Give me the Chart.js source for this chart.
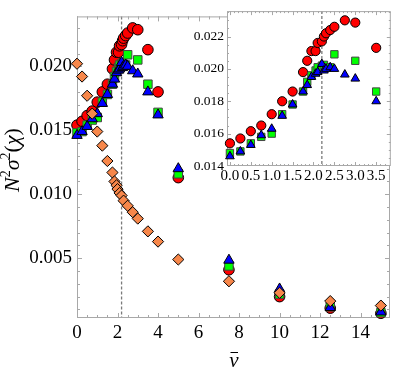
<!DOCTYPE html>
<html>
<head>
<meta charset="utf-8">
<script src="https://cdn.jsdelivr.net/npm/chart.js@4.4.0/dist/chart.umd.min.js"></script>
<style>
  html, body { margin: 0; padding: 0; background: #fff; }
  #wrap { position: relative; width: 397px; height: 375px; }
  #main { position: absolute; left: 0; top: 0; }
  #inset { position: absolute; left: 185px; top: 0; }
</style>
</head>
<body>
<div id="wrap">
  <canvas id="main" width="397" height="375"></canvas>
  <canvas id="inset" width="212" height="185"></canvas>
</div>
<script>
// nu-bar Werte fuer rot / gruen / blau
const vBar = [0, 0.25, 0.5, 0.75, 1, 1.25, 1.5, 1.75, 1.85, 1.95, 2.05, 2.1, 2.2, 2.25, 2.3, 2.4, 2.5, 2.75, 3, 3.5, 4, 5, 7.5, 10, 12.5, 15];
const rot = [0.0154, 0.0157, 0.01615, 0.0165, 0.0172, 0.0180, 0.0186, 0.0198, 0.0205, 0.0211, 0.0211, 0.0216, 0.0217, 0.0220, 0.0222, 0.0224, 0.0226, 0.0230, 0.02286, 0.0213, 0.0180, 0.0113, 0.0041, 0.0020, 0.0011, 0.0007];
const gruen = [0.0148, 0.0149, 0.0154, 0.0158, 0.0160, 0.0172, 0.0178, 0.0186, 0.0192, 0.0196, 0.0199, 0.0201, 0.0202, 0.02025, 0.0201, 0.0201, 0.0209, null, 0.0205, 0.0186, 0.0164, 0.0116, 0.0044, 0.0022, 0.0012, 0.00075];
const blau = [0.0146, 0.0149, 0.0153, 0.0159, 0.0163, 0.0171, 0.0178, 0.0186, 0.0190, 0.0195, 0.0197, 0.0198, 0.0203, 0.0199, 0.0200, 0.0201, 0.0200, 0.01965, 0.0194, 0.0180, 0.0162, 0.0120, 0.00485, 0.0026, 0.00115, 0.0008];

// Rauten (nur im Hauptplot)
const vOrange = [0, 0.25, 0.5, 0.75, 1, 1.25, 1.5, 1.75, 1.85, 1.95, 2, 2.1, 2.2, 2.3, 2.5, 2.75, 3, 3.5, 4, 5, 7.5, 10, 12.5, 15];
const orange = [0.0202, 0.0192, 0.0177, 0.0163, 0.0149, 0.0138, 0.0126, 0.0117, 0.0110, 0.0107, 0.0104, 0.0101, 0.0099, 0.0095, 0.0091, 0.0086, 0.0081, 0.0071, 0.0063, 0.0049, 0.0032, 0.0023, 0.00165, 0.0013];

// gestrichelte Linie
const nuKrit = 2.2;

// Ticks Hauptplot
const xHaupt = [0, 2, 4, 6, 8, 10, 12, 14];
const yHaupt = [0.005, 0.010, 0.015, 0.020];
// Ticks Inset
const xInset = [0, 0.5, 1, 1.5, 2, 2.5, 3, 3.5];
const yInset = [0.014, 0.016, 0.018, 0.020, 0.022];

function kleineTicks(von, bis, schritt) {
  let arr = [];
  for (let i = Math.ceil(von / schritt); i * schritt <= bis; i++) {
    arr.push(i * schritt);
  }
  return arr;
}

function punkte(xs, ys, maxX) {
  let arr = [];
  for (let i = 0; i < xs.length; i++) {
    if (ys[i] === null) continue;
    if (maxX !== undefined && xs[i] > maxX) continue;
    arr.push({ x: xs[i], y: ys[i] });
  }
  return arr;
}

function rahmenPlugin(cfg) {
  return {
    id: 'rahmen',
    beforeDraw(chart) {
      if (!cfg.fill) return;
      const a = chart.chartArea;
      chart.ctx.save();
      chart.ctx.fillStyle = '#fff';
      chart.ctx.fillRect(a.left, a.top, a.right - a.left, a.bottom - a.top);
      chart.ctx.restore();
    },
    beforeDatasetsDraw(chart) {
      const ctx = chart.ctx;
      const a = chart.chartArea;
      const x = chart.scales.x;
      const y = chart.scales.y;
      ctx.save();
      // gestrichelte Linie
      ctx.strokeStyle = '#7a7a7a';
      ctx.lineWidth = 1.3;
      ctx.setLineDash([3, 2]);
      const xd = x.getPixelForValue(nuKrit);
      ctx.beginPath();
      ctx.moveTo(xd, a.top);
      ctx.lineTo(xd, a.bottom);
      ctx.stroke();
      ctx.setLineDash([]);
      // Rahmen
      ctx.strokeStyle = '#a8a8a8';
      ctx.lineWidth = 1;
      ctx.strokeRect(a.left + 0.5, a.top + 0.5, a.right - a.left - 1, a.bottom - a.top - 1);
      // Ticks innen auf allen Seiten
      ctx.beginPath();
      const xTick = (v, len) => {
        const p = Math.round(x.getPixelForValue(v)) + 0.5;
        if (p < a.left || p > a.right) return;
        ctx.moveTo(p, a.bottom); ctx.lineTo(p, a.bottom - len);
        ctx.moveTo(p, a.top); ctx.lineTo(p, a.top + len);
      };
      const yTick = (v, len) => {
        const p = Math.round(y.getPixelForValue(v)) + 0.5;
        if (p < a.top || p > a.bottom) return;
        ctx.moveTo(a.left, p); ctx.lineTo(a.left + len, p);
        ctx.moveTo(a.right, p); ctx.lineTo(a.right - len, p);
      };
      cfg.xMinor.forEach(v => xTick(v, cfg.minor));
      cfg.xMajor.forEach(v => xTick(v, cfg.major));
      cfg.yMinor.forEach(v => yTick(v, cfg.minor));
      cfg.yMajor.forEach(v => yTick(v, cfg.major));
      ctx.stroke();
      ctx.restore();
    }
  };
}

// Achsentitel im Hauptplot
const titelPlugin = {
  id: 'titel',
  afterDraw(chart) {
    const ctx = chart.ctx;
    ctx.save();
    ctx.fillStyle = '#000';
    // y-Titel N^2 sigma^2 (chi)
    const teile = [
      { t: 'N', f: 'italic 22px "Liberation Serif"', dy: 0 },
      { t: '2', f: '14px "Liberation Serif"', dy: -9 },
      { t: 'σ', f: 'italic 22px "Liberation Serif"', dy: 0 },
      { t: '2', f: '14px "Liberation Serif"', dy: -9 },
      { t: '(', f: '22px "Liberation Serif"', dy: 0 },
      { t: 'χ', f: 'italic 22px "Liberation Serif"', dy: 0 },
      { t: ')', f: '22px "Liberation Serif"', dy: 0 }
    ];
    let breite = 0;
    teile.forEach(p => { ctx.font = p.f; p.w = ctx.measureText(p.t).width; breite += p.w; });
    ctx.translate(19, 160);
    ctx.rotate(-Math.PI / 2);
    ctx.textBaseline = 'alphabetic';
    let pos = -breite / 2;
    teile.forEach(p => { ctx.font = p.f; ctx.fillText(p.t, pos, p.dy); pos += p.w; });
    ctx.setTransform(1, 0, 0, 1, 0, 0);
    // x-Titel v mit Strich
    ctx.font = 'italic 21px "Liberation Serif"';
    ctx.textAlign = 'center';
    ctx.fillText('v', 234, 367);
    ctx.strokeStyle = '#000';
    ctx.lineWidth = 1;
    ctx.beginPath();
    ctx.moveTo(230.5, 352.5);
    ctx.lineTo(238, 352.5);
    ctx.stroke();
    ctx.restore();
  }
};

function serie(data, stil, farbe, rand, r) {
  return {
    data: data,
    pointStyle: stil,
    pointRadius: r,
    pointHoverRadius: r,
    pointBackgroundColor: farbe,
    pointBorderColor: rand,
    pointBorderWidth: 1,
    showLine: false,
    clip: false
  };
}

const tickFont = { family: 'Liberation Serif', size: 19 };

new Chart(document.querySelector('#main'), {
  type: 'scatter',
  data: {
    datasets: [
      serie(punkte(vOrange, orange), 'rectRot', '#F7874A', '#000', 5.6),
      serie(punkte(vBar, blau), 'triangle', '#0000FF', '#000', 6),
      serie(punkte(vBar, gruen), 'rect', '#00FF00', '#444', 6),
      serie(punkte(vBar, rot), 'circle', '#FF0000', '#000', 5.3)
    ]
  },
  options: {
    responsive: false,
    animation: false,
    devicePixelRatio: 1,
    layout: { padding: { left: 0, right: 2, top: 1, bottom: 0 } },
    plugins: { legend: { display: false }, tooltip: { enabled: false } },
    scales: {
      x: {
        type: 'linear', min: 0, max: 15.45,
        afterBuildTicks: s => { s.ticks = xHaupt.map(v => ({ value: v })); },
        afterFit: s => { s.height = 57; },
        grid: { display: false, drawTicks: false },
        border: { display: false },
        ticks: { font: tickFont, color: '#000', padding: 4, autoSkip: false, maxRotation: 0, callback: v => String(v) }
      },
      y: {
        type: 'linear', min: 0.00033, max: 0.0239,
        afterBuildTicks: s => { s.ticks = yHaupt.map(v => ({ value: v })); },
        afterFit: s => { s.width = 77; },
        grid: { display: false, drawTicks: false },
        border: { display: false },
        ticks: { font: tickFont, color: '#000', padding: 5, autoSkip: false, callback: v => v.toFixed(3) }
      }
    }
  },
  plugins: [
    rahmenPlugin({
      fill: false, major: 5, minor: 3,
      xMajor: xHaupt, xMinor: kleineTicks(0, 15.4, 0.5),
      yMajor: yHaupt, yMinor: kleineTicks(0.001, 0.0235, 0.001)
    }),
    titelPlugin
  ]
});

const insetFontX = { family: 'Liberation Serif', size: 15 };
const insetFontY = { family: 'Liberation Serif', size: 13.5 };

new Chart(document.querySelector('#inset'), {
  type: 'scatter',
  data: {
    datasets: [
      serie(punkte(vBar, blau, 3.6), 'triangle', '#0000FF', '#000', 5),
      serie(punkte(vBar, gruen, 3.6), 'rect', '#00FF00', '#444', 5.2),
      serie(punkte(vBar, rot, 3.6), 'circle', '#FF0000', '#000', 4.6)
    ]
  },
  options: {
    responsive: false,
    animation: false,
    devicePixelRatio: 1,
    layout: { padding: { left: 0, right: 4, top: 2, bottom: 0 } },
    plugins: { legend: { display: false }, tooltip: { enabled: false } },
    scales: {
      x: {
        type: 'linear', min: -0.07, max: 3.85,
        afterBuildTicks: s => { s.ticks = xInset.map(v => ({ value: v })); },
        afterFit: s => { s.height = 19; },
        grid: { display: false, drawTicks: false },
        border: { display: false },
        ticks: { font: insetFontX, color: '#000', padding: 1, autoSkip: false, maxRotation: 0, callback: v => v.toFixed(1) }
      },
      y: {
        type: 'linear', min: 0.014, max: 0.02357,
        afterBuildTicks: s => { s.ticks = yInset.map(v => ({ value: v })); },
        afterFit: s => { s.width = 42; },
        grid: { display: false, drawTicks: false },
        border: { display: false },
        ticks: { font: insetFontY, color: '#000', padding: 3, autoSkip: false, callback: v => v.toFixed(3) }
      }
    }
  },
  plugins: [
    rahmenPlugin({
      fill: true, major: 4, minor: 2,
      xMajor: xInset, xMinor: kleineTicks(0, 3.8, 0.1),
      yMajor: yInset, yMinor: kleineTicks(0.014, 0.0235, 0.0005)
    })
  ]
});
</script>
</body>
</html>
